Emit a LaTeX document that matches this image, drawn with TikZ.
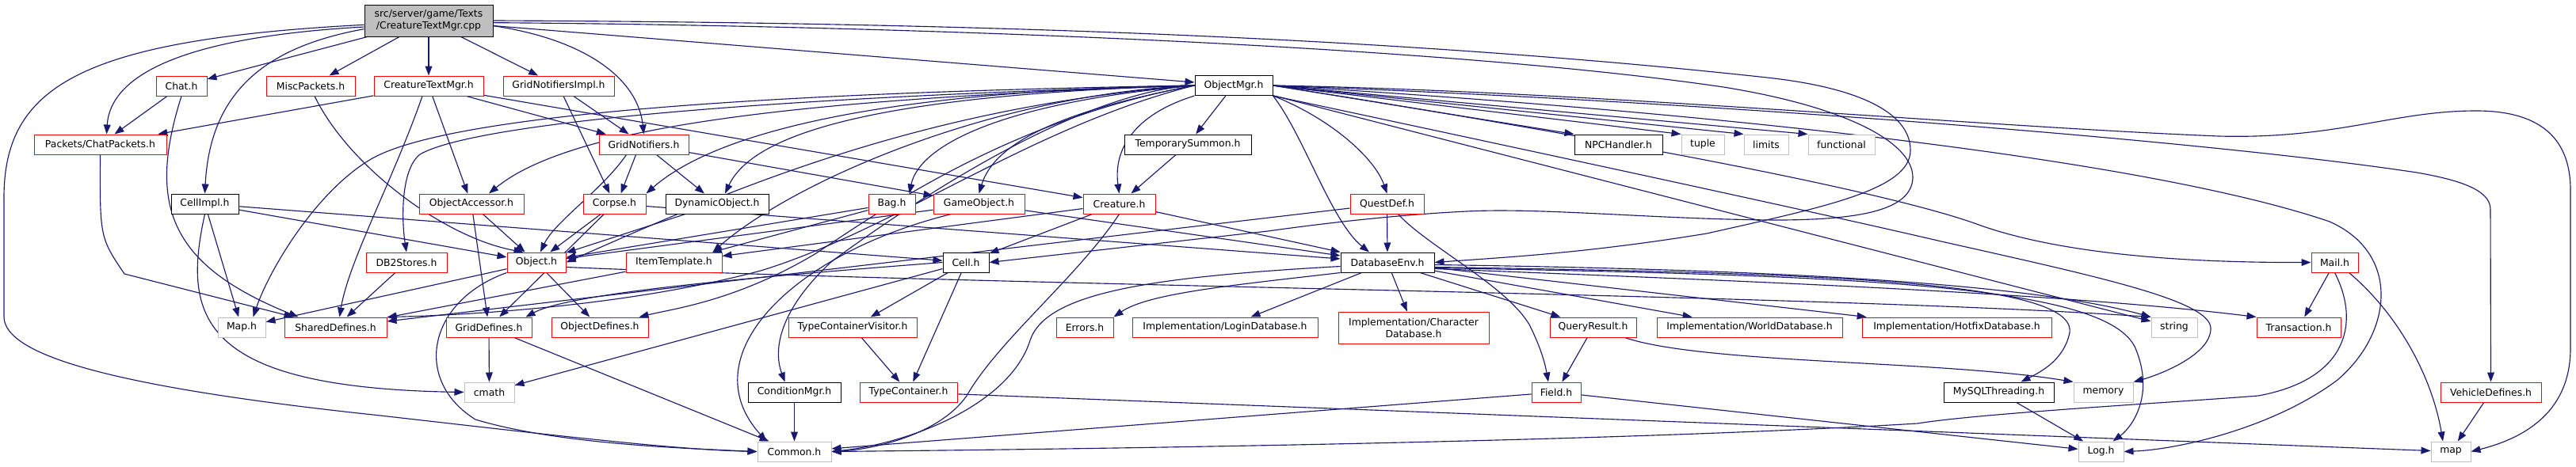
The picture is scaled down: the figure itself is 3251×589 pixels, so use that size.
\documentclass[tikz,border=0pt]{standalone}
\usepackage{fontspec}
\setmainfont{DejaVu Sans}
\usetikzlibrary{arrows.meta,calc}
\definecolor{edgec}{HTML}{191970}
\definecolor{lgray}{HTML}{BFBFBF}
\definecolor{dred}{HTML}{FF0000}
\pgfdeclarelayer{bglayer}
\pgfdeclarelayer{edgelayer}
\pgfsetlayers{bglayer,edgelayer,main}
\newcommand{\dxfont}{\fontsize{9.3}{11.25}\selectfont}
\begin{document}
\begin{tikzpicture}[x=0.75pt,y=-0.75pt,
  bx/.style={font=\dxfont, inner sep=0pt, minimum height=18.75pt, fill=white, line width=0.75pt, align=center},
  rb/.style={bx,draw=dred},
  bb/.style={bx,draw=black},
  gb/.style={bx,draw=lgray},
  wd/.style={minimum width=#1*0.75pt},
  ed/.style={draw=edgec, line width=0.85pt, -{Triangle[length=9pt,width=6.6pt]}},
]
\begin{pgfonlayer}{bglayer}
\fill[white] (0,0) rectangle (3251,589);
\end{pgfonlayer}
\useasboundingbox (0,0) rectangle (3251,589);
% ---- nodes ----
\node[bx,draw=black,fill=lgray,wd=162,minimum height=30pt] (root) at (541,26) {src/server/game/Texts\\/CreatureTextMgr.cpp};
\node[rb,wd=64] (chat) at (229,108.5) {Chat.h};
\node[rb,wd=112] (misc) at (392,108.5) {MiscPackets.h};
\node[rb,wd=138] (ctmh) at (541,108.5) {CreatureTextMgr.h};
\node[rb,wd=140] (gni) at (705,108.5) {GridNotifiersImpl.h};
\node[bb,wd=98] (omgr) at (1557,108) {ObjectMgr.h};
\node[rb,wd=167] (chatpk) at (126.5,182.5) {Packets/ChatPackets.h};
\node[rb,wd=113] (gn) at (812.5,182.5) {GridNotifiers.h};
\node[bb,wd=160] (tsum) at (1499,182.5) {TemporarySummon.h};
\node[bb,wd=111] (npc) at (2042.5,182.5) {NPCHandler.h};
\node[gb,wd=54] (tuple) at (2149,182.5) {tuple};
\node[gb,wd=56] (limits) at (2229,182.5) {limits};
\node[gb,wd=84] (functional) at (2324,182.5) {functional};
\node[bb,wd=85] (cellimpl) at (258.5,257.5) {CellImpl.h};
\node[rb,wd=132] (oacc) at (595,257.5) {ObjectAccessor.h};
\node[rb,wd=79] (corpse) at (775.5,257.5) {Corpse.h};
\node[bb,wd=130] (dynobj) at (905,257.5) {DynamicObject.h};
\node[rb,wd=59] (bag) at (1125.5,257.5) {Bag.h};
\node[rb,wd=115] (gobj) at (1235.5,257.5) {GameObject.h};
\node[rb,wd=91] (creature) at (1412.5,257.5) {Creature.h};
\node[rb,wd=93] (questdef) at (1750.5,257.5) {QuestDef.h};
\node[rb,wd=102] (db2) at (513,331.5) {DB2Stores.h};
\node[rb,wd=74] (object) at (677,331.5) {Object.h};
\node[rb,wd=121] (itemtpl) at (850.5,331.5) {ItemTemplate.h};
\node[bb,wd=58] (cell) at (1219,331.5) {Cell.h};
\node[bb,wd=118] (dbenv) at (1751,331.5) {DatabaseEnv.h};
\node[rb,wd=59] (mail) at (2946.5,331.5) {Mail.h};
\node[gb,wd=60] (maph) at (305,413.5) {Map.h};
\node[rb,wd=129] (shared) at (423.5,413.5) {SharedDefines.h};
\node[rb,wd=108] (griddef) at (617,413.5) {GridDefines.h};
\node[rb,wd=122] (objdef) at (757,413.5) {ObjectDefines.h};
\node[rb,wd=162] (tcv) at (1076,413.5) {TypeContainerVisitor.h};
\node[rb,wd=72] (errors) at (1369,413.5) {Errors.h};
\node[rb,wd=234] (logindb) at (1546,413.5) {Implementation/LoginDatabase.h};
\node[rb,wd=190,minimum height=30pt] (chardb) at (1784,414) {Implementation/Character\\Database.h};
\node[rb,wd=109] (qres) at (2010.5,413.5) {QueryResult.h};
\node[rb,wd=234] (worlddb) at (2208,413.5) {Implementation/WorldDatabase.h};
\node[rb,wd=239] (hotfix) at (2469.5,413.5) {Implementation/HotfixDatabase.h};
\node[gb,wd=58] (string) at (2744,413.5) {string};
\node[rb,wd=106] (trans) at (2901,413.5) {Transaction.h};
\node[gb,wd=63] (cmath) at (617.5,495.5) {cmath};
\node[bb,wd=117] (condmgr) at (1002.5,495.5) {ConditionMgr.h};
\node[rb,wd=123] (tcont) at (1146.5,495.5) {TypeContainer.h};
\node[rb,wd=62] (field) at (1964,495.5) {Field.h};
\node[bb,wd=139] (mysql) at (2522.5,495.5) {MySQLThreading.h};
\node[gb,wd=75] (memory) at (2654.5,495.5) {memory};
\node[rb,wd=127] (vehicle) at (3143.5,495.5) {VehicleDefines.h};
\node[gb,wd=93] (common) at (1002.5,570.5) {Common.h};
\node[gb,wd=57] (log) at (2651.5,570.5) {Log.h};
\node[gb,wd=50] (map) at (3093,570.5) {map};
% ---- edges ----
\begin{pgfonlayer}{edgelayer}
% root
\draw[ed] (root) -- (chat);
\draw[ed] (root) -- (misc);
\draw[ed] (root) -- (ctmh);
\draw[ed] (root) -- (gni);
\draw[ed] (root) -- (omgr);
\draw[ed] ([yshift=-6pt]root.west) .. controls (260,45) and (140,85) .. ($(chatpk.north)+(8,0)$);
\draw[ed] ([yshift=-8pt]root.west) .. controls (330,60) and (265,120) .. (cellimpl.north);
\draw[ed] ([yshift=-4pt]root.west) .. controls (100,50) and (5,110) .. (5,250) -- (5,400) .. controls (5,450) and (150,490) .. (480,525) .. controls (700,550) and (850,568) .. (common.west);
\draw[ed] ([yshift=-5pt]root.east) .. controls (740,50) and (805,100) .. (gn.north);
\draw[ed] (root.east) .. controls (1100,28) and (1700,40) .. (2230,98) .. controls (2340,110) and (2411,140) .. (2411,190) .. controls (2411,240) and (2300,262) .. (2154,295) .. controls (2000,320) and (1900,325) .. (dbenv.east);
\draw[ed] ([yshift=-2pt]root.east) .. controls (1100,32) and (1800,55) .. (2175,110) .. controls (2330,135) and (2415,180) .. (2414,225) .. controls (2412,265) and (2350,277) .. (2250,278) .. controls (2100,278) and (1950,262) .. (1851,267) .. controls (1750,272) and (1650,285) .. (1600,292) -- (cell.east);
% chat, misc, ctmh, gni
\draw[ed] (chat) -- (chatpk);
\draw[ed] (chat.south) .. controls (185,260) and (215,335) .. ($(shared.north west)+(18,0)$);
\draw[ed] ($(misc.south)+(5,0)$) .. controls (440,210) and (560,300) .. ($(object.north west)+(21,0)$);
\draw[ed] (ctmh) -- (chatpk);
\draw[ed] ($(ctmh.south)+(-8,0)$) .. controls (495,230) and (440,330) .. ($(shared.north)+(5,0)$);
\draw[ed] (ctmh) -- (oacc);
\draw[ed] (ctmh) -- (gn);
\draw[ed] (ctmh) -- (creature);
\draw[ed] (gni) -- (gn);
\draw[ed] (gni) -- (corpse);
% chatpk, gn, cellimpl
\draw[ed] (chatpk.south) .. controls (126,300) .. (157,346) -- ($(shared.north west)+(12,0)$);
\draw[ed] ($(gn.south)+(-22,0)$) .. controls (760,240) and (700,280) .. ($(object.north)+(5,0)$);
\draw[ed] ($(gn.south)+(-10,0)$) -- ($(corpse.north)+(8,0)$);
\draw[ed] (gn) -- (dynobj);
\draw[ed] (gn) -- (gobj);
\draw[ed] (cellimpl) -- (maph);
\draw[ed] (cellimpl.south) .. controls (230,400) and (250,490) .. (cmath.west);
\draw[ed] (cellimpl) -- (object);
\draw[ed] (cellimpl) -- (cell);
% oacc, corpse, dynobj
\draw[ed] (oacc) -- (griddef);
\draw[ed] (oacc) -- (object);
\draw[ed] (corpse) -- (object);
\draw[ed] (corpse) -- (griddef);
\draw[ed] (corpse) -- (dbenv);
\draw[ed] (dynobj) -- (object);
% ObjectMgr.h
\draw[ed] (omgr.west) .. controls (1100,120) and (950,170) .. ($(dynobj.north)+(10,0)$);
\draw[ed] (omgr.west) .. controls (1100,115) and (900,170) .. (corpse.north east);
\draw[ed] (omgr.west) .. controls (1260,130) and (1160,185) .. ($(bag.north)+(22,0)$);
\draw[ed] (omgr.west) .. controls (1340,140) and (1255,180) .. (gobj.north);
\draw[ed] (omgr.south west) .. controls (1430,145) and (1405,190) .. (creature.north);
\draw[ed] (omgr) -- (tsum);
\draw[ed] (omgr.south east) .. controls (1680,150) and (1735,200) .. (questdef.north);
\draw[ed] (omgr.south east) .. controls (1645,170) and (1680,280) .. ($(dbenv.north)+(-23,0)$);
\draw[ed] (omgr.east) -- (npc.north west);
\draw[ed] (omgr.east) -- (tuple.north west);
\draw[ed] (omgr.east) -- (limits.north west);
\draw[ed] (omgr.east) -- (functional.north west);
\draw[ed] (omgr.east) .. controls (2000,115) and (2500,160) .. (2800,172) .. controls (2950,176) and (3020,140) .. (3125,140) .. controls (3200,140) and (3244,170) .. (3244,240) -- (3244,440) .. controls (3244,510) and (3200,550) .. (map.east);
\draw[ed] (omgr.east) .. controls (2200,130) and (2800,180) .. (3050,218) .. controls (3120,230) and (3143,245) .. (3143,265) -- (vehicle.north);
\draw[ed] (omgr.east) .. controls (2300,150) and (2750,215) .. (2940,280) .. controls (3030,320) and (3020,420) .. (2950,480) .. controls (2870,540) and (2750,568) .. (log.east);
\draw[ed] (omgr.east) .. controls (2000,170) and (2380,240) .. (2500,285) .. controls (2600,320) and (2750,332) .. (mail.west);
\draw[ed] (omgr.south east) .. controls (2000,205) and (2300,270) .. (2450,305) .. controls (2650,350) and (2790,380) .. (2790,415) .. controls (2790,450) and (2720,475) .. (memory.north east);
\draw[ed] (omgr) -- (string);
\draw[ed] (omgr.west) .. controls (1380,115) and (1200,220) .. (1050,330) .. controls (985,390) and (975,440) .. ($(condmgr.north)+(-12,0)$);
\draw[ed] (omgr.west) .. controls (1250,120) and (1000,230) .. ($(itemtpl.north east)+(-12,0)$);
\draw[ed] (omgr.west) .. controls (1280,150) and (1120,260) .. (1030,320) .. controls (930,380) and (850,390) .. ($(objdef.north east)+(-12,0)$);
\draw[ed] (omgr.west) .. controls (1300,160) and (1130,290) .. (960,342) .. controls (800,385) and (600,398) .. (shared.north east);
\draw[ed] (omgr.west) .. controls (1150,135) and (900,250) .. (object.east);
\draw[ed] (omgr.west) .. controls (900,118) and (560,150) .. (470,200) .. controls (400,240) and (340,340) .. ($(maph.north east)+(-16,0)$);
\draw[ed] (omgr.west) .. controls (900,125) and (590,160) .. (530,195) .. controls (505,215) and (507,280) .. (db2.north);
\draw[ed] (omgr.west) .. controls (1000,125) and (720,160) .. ($(oacc.north)+(22,0)$);
% tsum, questdef, bag, gobj, creature
\draw[ed] (tsum) -- (creature);
\draw[ed] (questdef) -- (dbenv);
\draw[ed] (questdef) -- (shared);
\draw[ed] ($(questdef.south)+(14,0)$) .. controls (1800,310) and (1900,360) .. (1930,410) .. controls (1945,440) and (1950,460) .. ($(field.north)+(-10,0)$);
\draw[ed] (bag) -- (itemtpl);
\draw[ed] (bag) -- (object);
\draw[ed] (gobj) -- (object);
\draw[ed] ($(gobj.south)+(-35,0)$) .. controls (1000,320) and (870,450) .. ($(common.north)+(-35,0)$);
\draw[ed] (gobj) -- (dbenv);
\draw[ed] (creature) -- (itemtpl);
\draw[ed] (creature) -- (cell);
\draw[ed] (creature.south) .. controls (1360,350) and (1260,430) .. (1220,500) .. controls (1185,550) and (1100,568) .. (common.east);
\draw[ed] (creature) -- (dbenv);
% DatabaseEnv.h
\draw[ed] (dbenv.south west) .. controls (1560,360) and (1450,370) .. (errors.north east);
\draw[ed] (dbenv) -- (logindb);
\draw[ed] (dbenv) -- (chardb);
\draw[ed] (dbenv) -- (qres);
\draw[ed] (dbenv) -- (worlddb);
\draw[ed] (dbenv) -- (hotfix);
\draw[ed] ($(dbenv.east)+(0,3)$) .. controls (2200,340) and (2550,355) .. (string.north west);
\draw[ed] ($(dbenv.east)+(0,8)$) .. controls (2200,355) and (2600,370) .. (trans.north west);
\draw[ed] ($(dbenv.east)+(0,6)$) .. controls (2300,345) and (2620,355) .. (2612,420) .. controls (2605,455) and (2575,470) .. ($(mysql.north)+(28,0)$);
\draw[ed] ($(dbenv.east)+(0,7)$) .. controls (2350,348) and (2660,360) .. (2695,440) .. controls (2720,500) and (2690,540) .. ($(log.north)+(15,0)$);
\draw[ed] ($(dbenv.west)+(0,5)$) .. controls (1450,350) and (1320,370) .. (1300,430) .. controls (1275,510) and (1150,560) .. (common.east);
% lower nodes
\draw[ed] (qres) -- (field);
\draw[ed] ($(qres.south east)+(-15,0)$) .. controls (2150,460) and (2450,455) .. (memory.north west);
\draw[ed] (field) -- (common);
\draw[ed] (field) -- (log);
\draw[ed] (mysql) -- (log);
\draw[ed] (tcont) -- (map);
\draw[ed] (mail) -- (trans);
\draw[ed] ($(mail.south east)+(-12,0)$) .. controls (3030,400) and (3070,480) .. ($(map.north)+(-10,0)$);
\draw[ed] (mail.south) .. controls (2980,410) and (2960,480) .. (2850,500) .. controls (2750,508) and (2500,522) .. (2420,535) .. controls (2000,560) and (1300,568) .. (common.east);
\draw[ed] (vehicle) -- (map);
\draw[ed] (cell) -- (tcv);
\draw[ed] (cell) -- (tcont);
\draw[ed] (cell) -- (cmath);
\draw[ed] (cell.west) .. controls (950,350) and (720,370) .. ($(griddef.north east)+(-8,0)$);
\draw[ed] (tcv) -- (tcont);
\draw[ed] (object) -- (maph);
\draw[ed] (object.south west) .. controls (540,380) and (520,480) .. (600,530) .. controls (700,560) and (850,566) .. (common.west);
\draw[ed] (object) -- (objdef);
\draw[ed] ($(object.east)+(0,6)$) .. controls (1300,362) and (2300,372) .. (string.north west);
\draw[ed] (db2) -- (shared);
\draw[ed] (griddef) -- (cmath);
\draw[ed] (griddef) -- (common);
\draw[ed] (condmgr) -- (common);
\draw[ed] (itemtpl) -- (shared);
\end{pgfonlayer}
\end{tikzpicture}
\end{document}
